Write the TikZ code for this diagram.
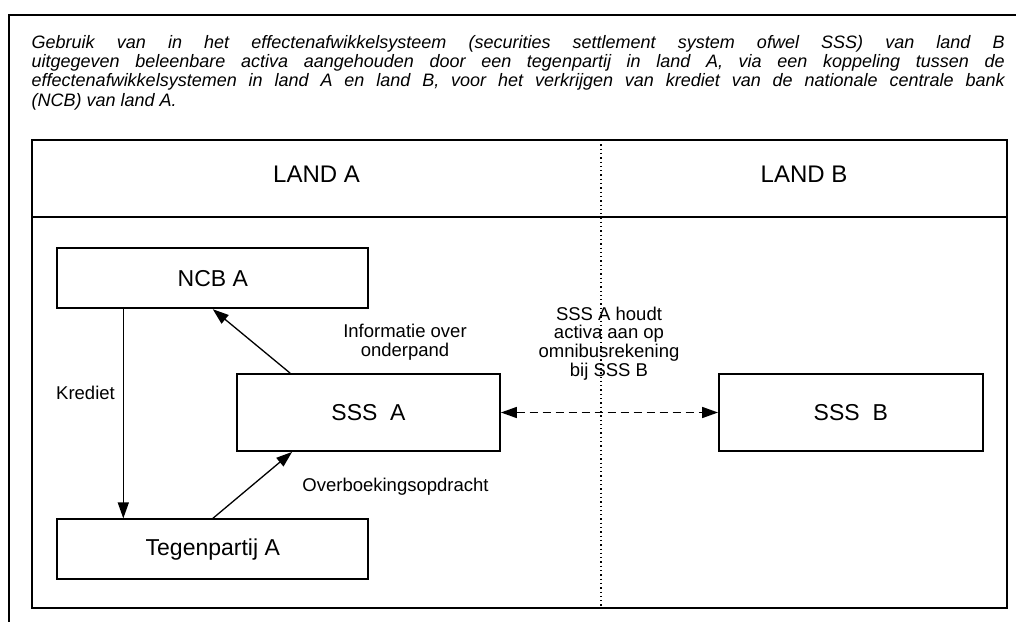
\documentclass[tikz,border=0pt]{standalone}
\usepackage{fontspec}
\setmainfont{Liberation Sans}
\usetikzlibrary{arrows.meta}
\begin{document}
\begin{tikzpicture}[x=1pt,y=-1pt,
  frame/.style={line width=2pt},
  box/.style={draw,line width=1.8pt,inner sep=0pt,font=\fontsize{23}{27}\selectfont},
  head/.style={anchor=base,inner sep=0pt,font=\fontsize{24}{28}\selectfont},
  lbl/.style={anchor=base,inner sep=0pt,align=center,font=\fontsize{18.5}{19}\selectfont},
  conn/.style={line width=1.3pt,-{Triangle[length=16pt,width=11pt]}},
  dconn/.style={line width=1.6pt,dash pattern=on 8pt off 5pt,{Triangle[length=16pt,width=11pt]}-{Triangle[length=16pt,width=11pt]}},
  ]
\useasboundingbox (0,0) rectangle (1016,621);
\fill[white] (0,0) rectangle (1016,621);
% outer frame (cut at right and bottom)
\draw[line width=2.2pt] (9,630) -- (9,15) -- (1030,15);
% title (base anchor = baseline of last line)
\node[anchor=base west,inner sep=0pt,align=left,font=\itshape\fontsize{18}{19.3}\selectfont] (title) at (31.5,106)
 {\makebox[973pt][s]{Gebruik van in het effectenafwikkelsysteem (securities settlement system ofwel SSS) van land B}\\
  \makebox[973pt][s]{uitgegeven beleenbare activa aangehouden door een tegenpartij in land A, via een koppeling tussen de}\\
  \makebox[973pt][s]{effectenafwikkelsystemen in land A en land B, voor het verkrijgen van krediet van de nationale centrale bank}\\
  (NCB) van land A.};
% inner frame
\draw[frame] (32,140) rectangle (1006.7,607.7);
\draw[frame] (32,217) -- (1006.7,217);
\coordinate (dtop) at (601,140);
\coordinate (dbot) at (601,607.7);
\draw[line width=1.5pt,dash pattern=on 1.3pt off 3pt] (dtop) -- (dbot);
\node[head] (landa) at (316.5,182) {LAND A};
\node[head] (landb) at (804,182) {LAND B};
% boxes
\node[box,minimum width=311pt,minimum height=60pt] (ncb) at (212.8,278.3) {NCB A};
\node[box,minimum width=311pt,minimum height=60pt] (teg) at (212.8,549.3) {Tegenpartij A};
\node[box,minimum width=263pt,minimum height=77pt] (sssa) at (368.5,412.5) {SSS\ \ A};
\node[box,minimum width=263.7pt,minimum height=77pt] (sssb) at (850.8,412.5) {SSS\ \ B};
% connectors
\coordinate (kx) at (123.3,0);
\draw[conn] (ncb.south -| kx) -- (teg.north -| kx);
\draw[conn] (teg.north) -- ([xshift=56pt]sssa.south west);
\draw[conn] ([xshift=54pt]sssa.north west) -- (ncb.south);
\draw[dconn] (sssa.east) -- (sssb.west);
% labels (base anchor = baseline of last line)
\node[lbl] (lkred) at (85.5,399) {Krediet};
\node[lbl] (lover) at (395.5,491.7) {Overboekingsopdracht};
\node[lbl] (linfo) at (405,356.5) {Informatie over\\onderpand};
\node[lbl,font=\fontsize{18.5}{18.8}\selectfont] (lsss) at (609,376.4) {SSS A houdt\\activa aan op\\omnibusrekening\\bij SSS B};
\end{tikzpicture}
\end{document}
